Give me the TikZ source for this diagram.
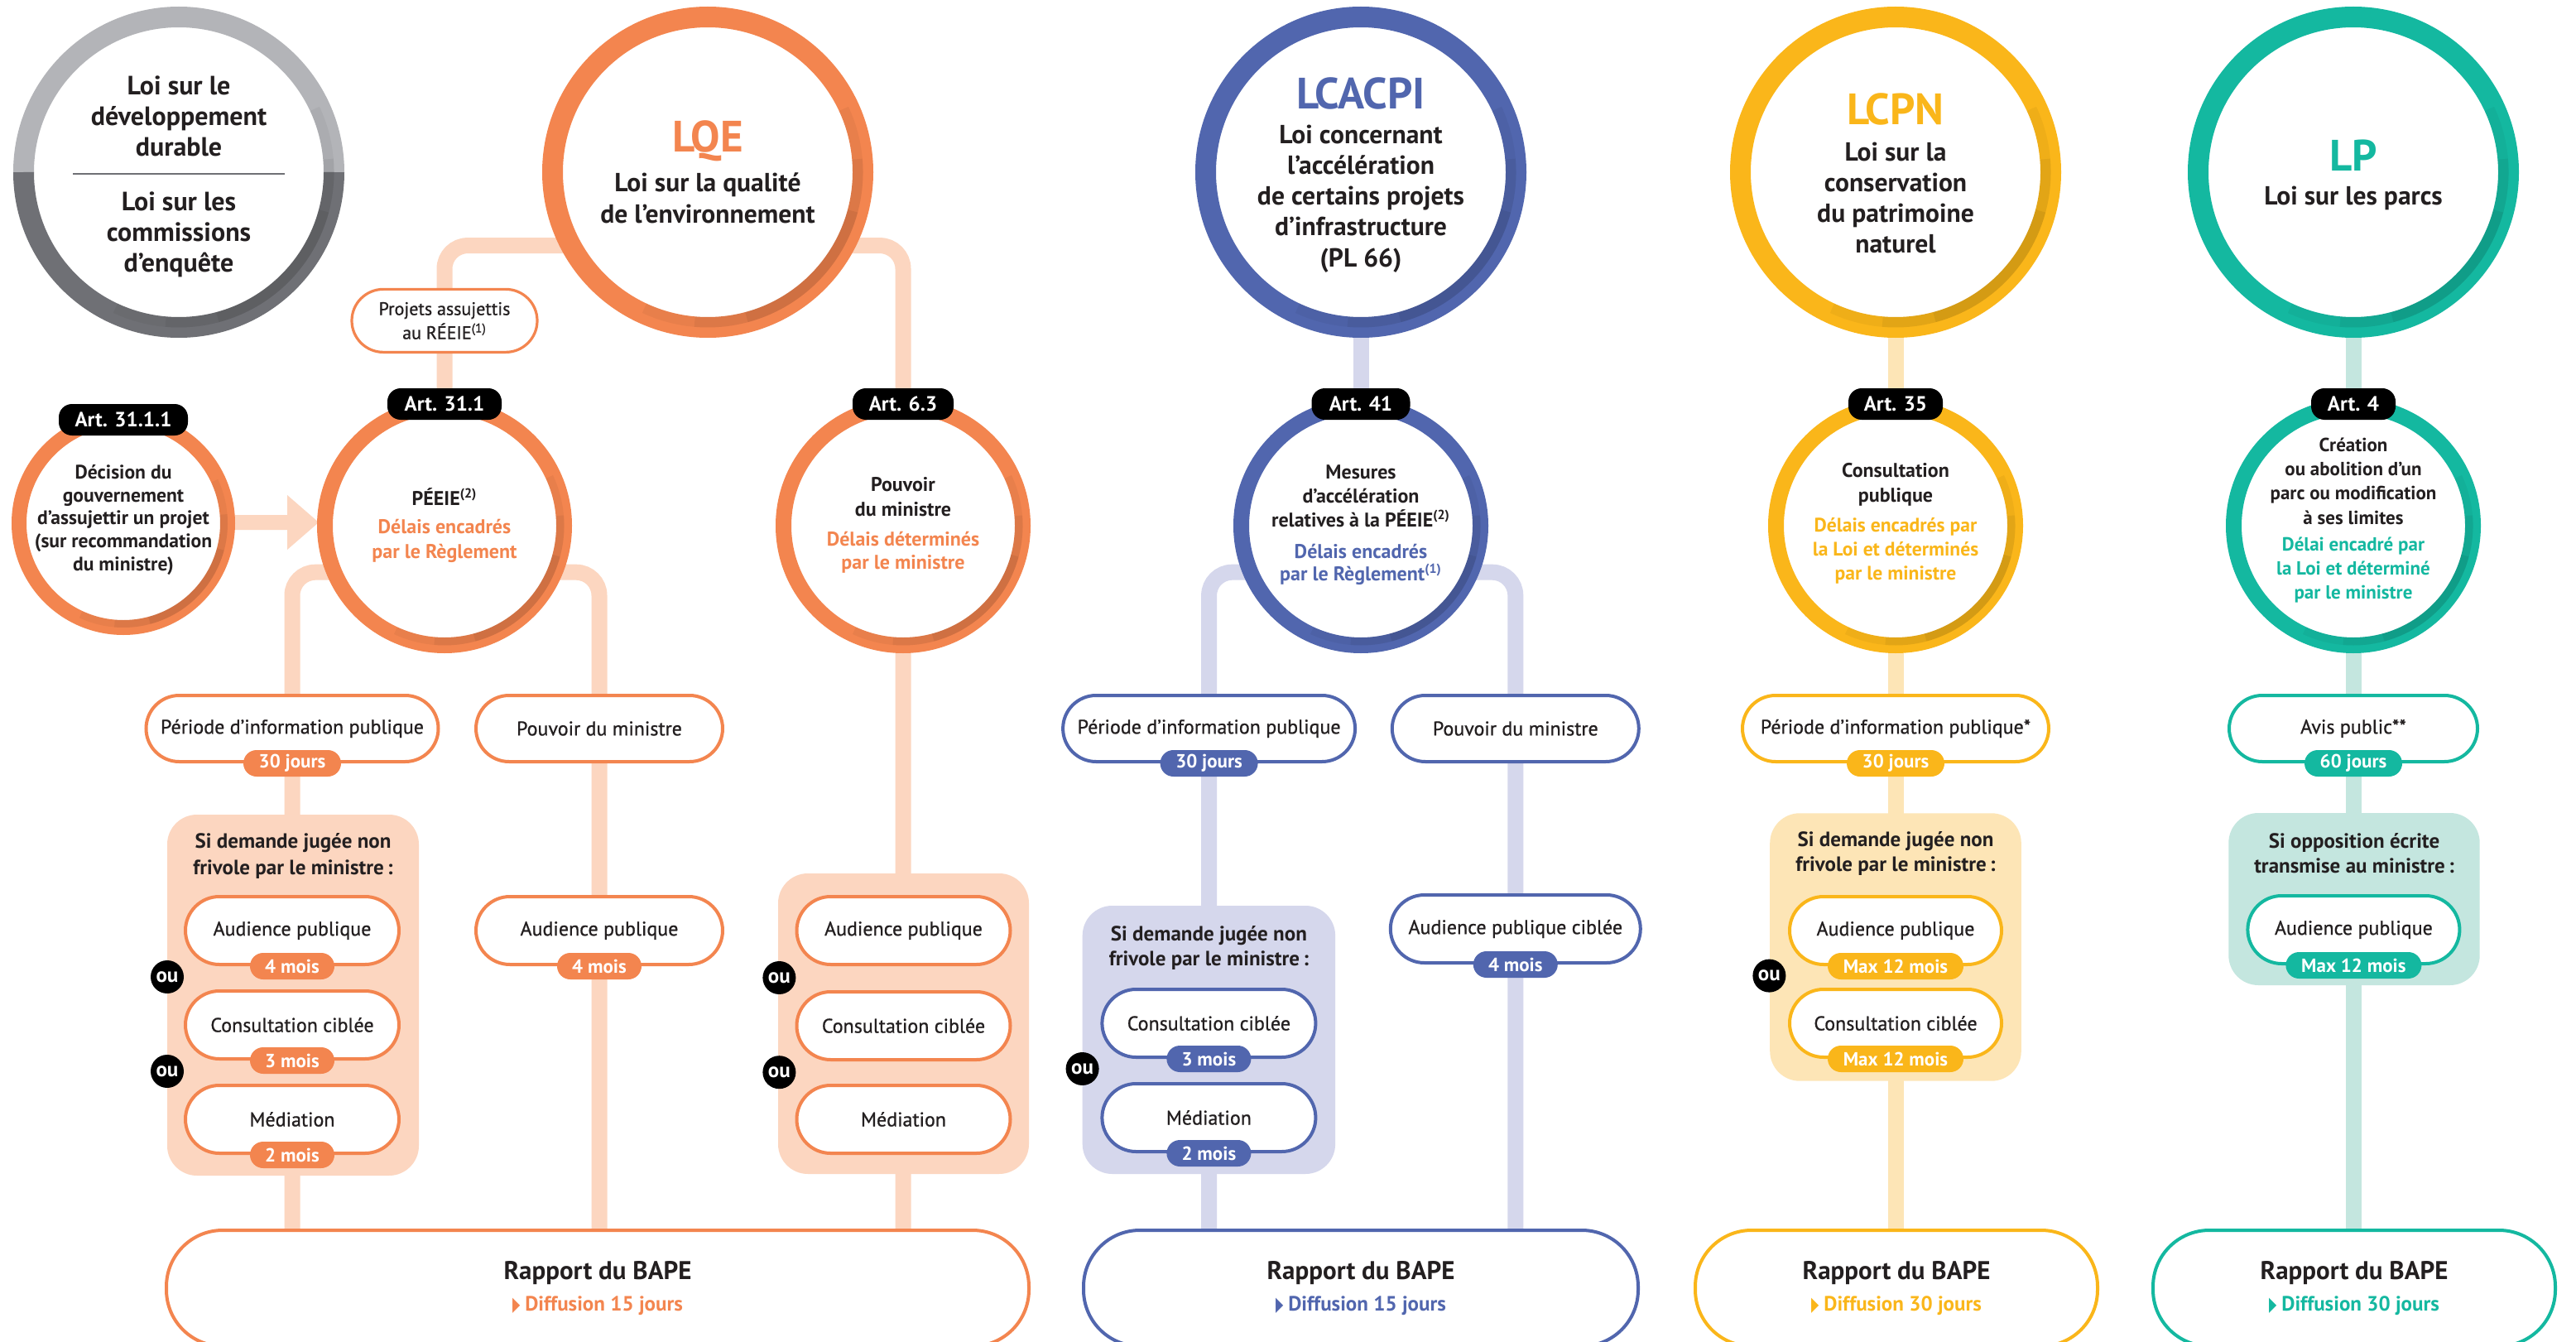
\documentclass[tikz,border=0pt]{standalone}
\usepackage{fontspec}
\setmainfont{PT Sans}
\newfontfamily\semib{PT Sans}[FakeBold=0.8]
\newfontfamily\dejavu{DejaVu Sans}
\usepackage{graphicx}
\usetikzlibrary{calc}
\pgfdeclarelayer{bg}
\pgfsetlayers{bg,main}
\definecolor{org}{HTML}{F3854F}
\definecolor{orgL}{HTML}{FCD6C0}
\definecolor{blu}{HTML}{5166AE}
\definecolor{bluL}{HTML}{D5D7EC}
\definecolor{yel}{HTML}{FAB61A}
\definecolor{yelL}{HTML}{FDE5B6}
\definecolor{tea}{HTML}{14B8A0}
\definecolor{teaL}{HTML}{C4E6DF}
\definecolor{gryL}{HTML}{B3B4B8}
\definecolor{gryD}{HTML}{6F7075}
\definecolor{txt}{HTML}{231F20}
\newcommand\fsz[2]{\fontsize{#1}{#2}\selectfont}
\newcommand\tri{{\dejavu\fsz{12}{12}\scalebox{0.5}[1]{▶}}\hspace{3pt}}
\newcommand\ringshade[3]{%
  \foreach \shA/\shO in {70/0.045,50/0.05,30/0.06}{%
    \draw[black, opacity=\shO, line width={#3*0.5}]
      ($(#1.center)+({45-\shA}:{#2-#3*0.25})$)
      arc[start angle={45-\shA}, end angle={45+\shA}, radius={#2-#3*0.25}];
  }%
}
\tikzset{
  bigring/.style={circle, draw=#1, line width=12.5, fill=white, minimum size=187.5, inner sep=0},
  smallring/.style={circle, draw=#1, line width=9.5, fill=white, minimum size=144.5, inner sep=0},
  artlbl/.style={fill=black, text=white, rounded corners=8, minimum height=19, inner sep=0, font=\bfseries\fsz{12.5}{14}},
  pill/.style={draw=#1, line width=2, fill=white, rounded corners=20, minimum height=40, inner sep=0, text=txt, font=\semib\fsz{12}{14}},
  opt/.style={draw=#1, line width=2, fill=white, rounded corners=20.5, minimum height=41, minimum width=129, inner sep=0, text=txt, font=\semib\fsz{12}{14}},
  badge/.style={fill=#1, text=white, rounded corners=8, minimum height=16, inner sep=0, font=\bfseries\fsz{11.5}{12}},
  zone/.style={fill=#1, rounded corners=18, inner sep=0},
  oudot/.style={circle, fill=black, text=white, minimum size=20, inner sep=0, font=\bfseries\fsz{12.5}{12}},
  conn/.style={line width=9.5, draw=#1},
  rapport/.style={draw=#1, line width=2, fill=white, rounded corners=34, minimum height=70, inner sep=0},
  ctext/.style={align=center, text=txt, inner sep=0, font=\bfseries\fsz{12}{14.5}},
  ttl/.style={align=center, text=#1, inner sep=0, font=\bfseries\fsz{26.5}{28}},
}
\begin{document}
\begin{tikzpicture}[x=1pt,y=-1pt]
\useasboundingbox (0,0) rectangle (1556,810.5);
\begin{pgfonlayer}{bg}
\fill[white] (0,0) rectangle (1556,810.5);
\end{pgfonlayer}

% ---------- top row ----------
\node[circle, fill=white, minimum size=187.5, inner sep=0] (gc) at (108,104) {};
\draw[gryL, line width=12.5] ($(gc.center)+(-93.75,0)$) arc[start angle=180,end angle=360,radius=93.75];
\draw[gryD, line width=12.5] ($(gc.center)+(93.75,0)$) arc[start angle=0,end angle=180,radius=93.75];
\ringshade{gc}{93.75}{12.5}
\draw[gryD, line width=1.2] ($(gc.center)+(-64,1)$) -- ($(gc.center)+(64,1)$);
\node[ctext, font=\bfseries\fsz{16}{18.5}] (gcA) at (108,70) {Loi sur le\\développement\\durable};
\node[ctext, font=\bfseries\fsz{16}{18.5}] (gcB) at (108,141.5) {Loi sur les\\commissions\\d’enquête};

\node[bigring=org] (lqe) at (427.5,104) {};
\ringshade{lqe}{93.75}{12.5}
\node[ttl=org] (lqeT) at (427.5,85) {LQE};
\node[ctext, font=\bfseries\fsz{15.8}{19}] (lqeB) at (427.5,119.5) {Loi sur la qualité\\de l’environnement};

\node[bigring=blu] (lca) at (822,104) {};
\ringshade{lca}{93.75}{12.5}
\node[ttl=blu] (lcaT) at (822,56.5) {LCACPI};
\node[ctext, font=\bfseries\fsz{15.8}{18.6}] (lcaB) at (822,120) {Loi concernant\\l’accélération\\de certains projets\\d’infrastructure\\(PL 66)};

\node[bigring=yel] (lcpn) at (1145,104) {};
\ringshade{lcpn}{93.75}{12.5}
\node[ttl=yel] (lcpnT) at (1145,66) {LCPN};
\node[ctext, font=\bfseries\fsz{15.8}{18.6}] (lcpnB) at (1145,119.5) {Loi sur la\\conservation\\du patrimoine\\naturel};

\node[bigring=tea] (lp) at (1421.5,104) {};
\ringshade{lp}{93.75}{12.5}
\node[ttl=tea] (lpT) at (1421.5,94) {LP};
\node[ctext, font=\bfseries\fsz{15.8}{18.6}] (lpB) at (1421.5,119.5) {Loi sur les parcs};

% ---------- projets box ----------
\node[pill=org, minimum width=112, minimum height=38, rounded corners=19, line width=1.6, align=center, font=\semib\fsz{11}{14.5}] (proj) at (268.5,193.7) {Projets assujettis\\au RÉEIE\textsuperscript{(1)}};

% ---------- second row ----------
\node[smallring=org, minimum size=126, line width=9] (a3111) at (74.5,316) {};
\ringshade{a3111}{63}{9}
\node[artlbl, minimum width=78] (l3111) at (74.5,253.5) {Art. 31.1.1};
\node[ctext, font=\bfseries\fsz{11.8}{13.9}] (t3111) at (74.5,314) {Décision du\\gouvernement\\d’assujettir un projet\\(sur recommandation\\du ministre)};

\node[smallring=org] (a311) at (268.5,317.5) {};
\ringshade{a311}{72.25}{9.5}
\node[artlbl, minimum width=69] (l311) at (268.5,244) {Art. 31.1};
\node[ctext] (t311a) at (268.5,300) {PÉEIE\textsuperscript{(2)}};
\node[ctext, text=org, font=\bfseries\fsz{12}{15}] (t311b) at (268.5,326.5) {Délais encadrés\\par le Règlement};

\node[smallring=org] (a63) at (545.5,317.5) {};
\ringshade{a63}{72.25}{9.5}
\node[artlbl, minimum width=61] (l63) at (545.5,244) {Art. 6.3};
\node[ctext, font=\bfseries\fsz{12}{15}] (t63a) at (545.5,300) {Pouvoir\\du ministre};
\node[ctext, text=org, font=\bfseries\fsz{12}{14}] (t63b) at (545.5,333.5) {Délais déterminés\\par le ministre};

\node[smallring=blu] (a41) at (822,317.5) {};
\ringshade{a41}{72.25}{9.5}
\node[artlbl, minimum width=59.5] (l41) at (822,244) {Art. 41};
\node[ctext, font=\bfseries\fsz{12}{14.5}] (t41a) at (822,299.5) {Mesures\\d’accélération\\relatives à la PÉEIE\textsuperscript{(2)}};
\node[ctext, text=blu, font=\bfseries\fsz{12}{13.5}] (t41b) at (822,341) {Délais encadrés\\par le Règlement\textsuperscript{(1)}};

\node[smallring=yel] (a35) at (1145,317.5) {};
\ringshade{a35}{72.25}{9.5}
\node[artlbl, minimum width=57] (l35) at (1145,244) {Art. 35};
\node[ctext, font=\bfseries\fsz{12}{15}] (t35a) at (1145,292.5) {Consultation\\publique};
\node[ctext, text=yel, font=\bfseries\fsz{11.8}{14.5}] (t35b) at (1145,332.5) {Délais encadrés par\\la Loi et déterminés\\par le ministre};

\node[smallring=tea] (a4) at (1421.5,317.5) {};
\ringshade{a4}{72.25}{9.5}
\node[artlbl, minimum width=51] (l4) at (1421.5,244) {Art. 4};
\node[ctext, font=\bfseries\fsz{11.5}{14.6}] (t4a) at (1421.5,290.6) {Création\\ou abolition d’un\\parc ou modification\\à ses limites};
\node[ctext, text=tea, font=\bfseries\fsz{11.5}{14.3}] (t4b) at (1421.5,344.3) {Délai encadré par\\la Loi et déterminé\\par le ministre};

% ---------- third row ----------
\node[pill=org, minimum width=176.5] (pip1) at (176.5,440) {Période d’information publique};
\node[badge=org, minimum width=59] (pip1b) at (pip1.south) {30 jours};
\node[pill=org, minimum width=149] (pdm1) at (362,440) {Pouvoir du ministre};
\node[pill=blu, minimum width=176.5] (pip2) at (730.3,440) {Période d’information publique};
\node[badge=blu, minimum width=59] (pip2b) at (pip2.south) {30 jours};
\node[pill=blu, minimum width=149] (pdm2) at (915.4,440) {Pouvoir du ministre};
\node[pill=yel, minimum width=185] (pip3) at (1145,440) {Période d’information publique*};
\node[badge=yel, minimum width=59] (pip3b) at (pip3.south) {30 jours};
\node[pill=tea, minimum width=150] (avis) at (1421.5,440) {Avis public**};
\node[badge=tea, minimum width=59] (avisb) at (avis.south) {60 jours};

% ---------- zones ----------
\node[zone=orgL, minimum width=152, minimum height=218] (sd1) at (177,601) {};
\node[ctext, font=\bfseries\fsz{12.5}{16}] (sd1t) at (177,517) {Si demande jugée non\\frivole par le ministre\,:};
\node[zone=orgL, minimum width=151.5, minimum height=181.5] (sd2) at (545.75,618.25) {};
\node[zone=bluL, minimum width=152.7, minimum height=162] (sd3) at (730.2,628) {};
\node[ctext, font=\bfseries\fsz{12.5}{15}] (sd3t) at (730.2,572.5) {Si demande jugée non\\frivole par le ministre\,:};
\node[zone=yelL, minimum width=151.8, minimum height=161.7] (sd4) at (1145,572) {};
\node[ctext, font=\bfseries\fsz{12.5}{15}] (sd4t) at (1145,515.5) {Si demande jugée non\\frivole par le ministre\,:};
\node[zone=teaL, minimum width=151.7, minimum height=104] (sd5) at (1422,543) {};
\node[ctext, font=\bfseries\fsz{12.5}{15}] (sd5t) at (1422,515.5) {Si opposition écrite\\transmise au ministre\,:};

% ---------- options ----------
\node[opt=org] (ap1) at (176.5,562) {Audience publique};
\node[badge=org, minimum width=51] (ap1b) at (ap1.south) {4 mois};
\node[opt=org] (cc1) at (176.5,619) {Consultation ciblée};
\node[badge=org, minimum width=51] (cc1b) at (cc1.south) {3 mois};
\node[opt=org] (med1) at (176.5,676) {Médiation};
\node[badge=org, minimum width=51] (med1b) at (med1.south) {2 mois};
\node[oudot] (ou1) at (101,590) {ou};
\node[oudot] (ou2) at (101,647) {ou};

\node[opt=org, minimum width=149] (ap2) at (362,562) {Audience publique};
\node[badge=org, minimum width=51] (ap2b) at (ap2.south) {4 mois};

\node[opt=org] (ap3) at (545.75,562) {Audience publique};
\node[opt=org] (cc3) at (545.75,619.5) {Consultation ciblée};
\node[opt=org] (med3) at (545.75,676) {Médiation};
\node[oudot] (ou3) at (470.7,590.5) {ou};
\node[oudot] (ou4) at (470.7,647.6) {ou};

\node[opt=blu] (cc4) at (730.2,618) {Consultation ciblée};
\node[badge=blu, minimum width=51] (cc4b) at (cc4.south) {3 mois};
\node[opt=blu] (med4) at (730.2,675) {Médiation};
\node[badge=blu, minimum width=51] (med4b) at (med4.south) {2 mois};
\node[oudot] (ou5) at (653.8,645.5) {ou};

\node[opt=blu, minimum width=151] (apc) at (915.4,561) {Audience publique ciblée};
\node[badge=blu, minimum width=51] (apcb) at (apc.south) {4 mois};

\node[opt=yel, minimum width=128] (ap6) at (1145,562) {Audience publique};
\node[badge=yel, minimum width=82] (ap6b) at (ap6.south) {Max 12 mois};
\node[opt=yel, minimum width=128] (cc6) at (1145,618) {Consultation ciblée};
\node[badge=yel, minimum width=82] (cc6b) at (cc6.south) {Max 12 mois};
\node[oudot] (ou6) at (1068.7,589.3) {ou};

\node[opt=tea, minimum width=128] (ap7) at (1421.7,561.5) {Audience publique};
\node[badge=tea, minimum width=82] (ap7b) at (ap7.south) {Max 12 mois};

% ---------- rapports ----------
\node[rapport=org, minimum width=521] (rap1) at (361,778) {};
\node[ctext, font=\bfseries\fsz{15.5}{17}] (rap1a) at (361,769) {Rapport du BAPE};
\node[ctext, text=org, font=\bfseries\fsz{12.5}{14}] (rap1b) at (361,788.5) {\tri Diffusion 15 jours};
\node[rapport=blu, minimum width=335] (rap2) at (822,778) {};
\node[ctext, font=\bfseries\fsz{15.5}{17}] (rap2a) at (822,769) {Rapport du BAPE};
\node[ctext, text=blu, font=\bfseries\fsz{12.5}{14}] (rap2b) at (822,788.5) {\tri Diffusion 15 jours};
\node[rapport=yel, minimum width=243] (rap3) at (1145.5,778) {};
\node[ctext, font=\bfseries\fsz{15.5}{17}] (rap3a) at (1145.5,769) {Rapport du BAPE};
\node[ctext, text=yel, font=\bfseries\fsz{12.5}{14}] (rap3b) at (1145.5,788.5) {\tri Diffusion 30 jours};
\node[rapport=tea, minimum width=243] (rap4) at (1422,778) {};
\node[ctext, font=\bfseries\fsz{15.5}{17}] (rap4a) at (1422,769) {Rapport du BAPE};
\node[ctext, text=tea, font=\bfseries\fsz{12.5}{14}] (rap4b) at (1422,788.5) {\tri Diffusion 30 jours};

% ---------- connectors (behind) ----------
\begin{pgfonlayer}{bg}
\coordinate (yq) at (0,148.3);
\coordinate (yb) at (0,345.6);
\draw[conn=orgL, rounded corners=14] (a311.center) -- (a311.center |- yq) -- (a63.center |- yq) -- (rap1.center -| a63.center);
\draw[conn=orgL, rounded corners=14] (rap1.center -| pip1.center) -- (pip1.center |- yb) -- (pdm1.center |- yb) -- (rap1.center -| pdm1.center);
\fill[orgL] ($(a3111.east)+(-3,-5)$) -- ($(a311.west)+(-18,-6.5)$) -- ($(a311.west)+(-18,-18.5)$) -- ($(a311.west)+(1,-2)$) -- ($(a311.west)+(-18,14.5)$) -- ($(a311.west)+(-18,2.5)$) -- ($(a3111.east)+(-3,4)$) -- cycle;
\draw[conn=bluL] (lca.center) -- (a41.center);
\draw[conn=bluL, rounded corners=14] (rap2.center -| pip2.center) -- (pip2.center |- yb) -- (pdm2.center |- yb) -- (rap2.center -| pdm2.center);
\draw[conn=yelL] (lcpn.center) -- (rap3.center -| lcpn.center);
\draw[conn=teaL] (lp.center) -- (rap4.center -| lp.center);
\end{pgfonlayer}
\end{tikzpicture}
\end{document}
